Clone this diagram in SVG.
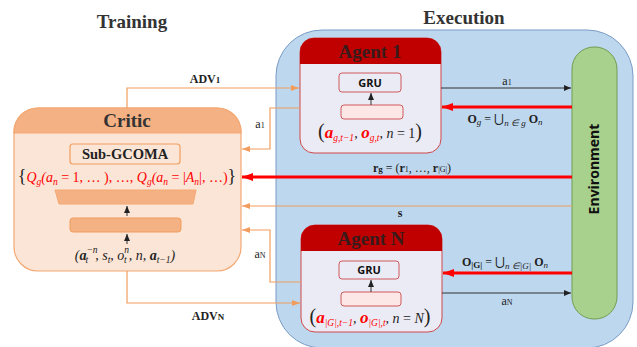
<svg xmlns="http://www.w3.org/2000/svg" width="637" height="347" viewBox="0 0 637 347">
<defs>
<style>
.ttl{font-family:"Liberation Serif",serif;font-weight:bold;font-size:19px;fill:#333}
.lbl{font-family:"Liberation Serif",serif;font-size:12px;fill:#222}
.math{font-family:"Liberation Serif",serif;font-style:italic;font-size:14px}
.sans{font-family:"Open Sans","DejaVu Sans",sans-serif;font-weight:bold}
.or{fill:none;stroke:#f19d5e;stroke-width:1.2}
.bk{fill:none;stroke:#333;stroke-width:1}
.rd{fill:none;stroke:#ff0000;stroke-width:3}
</style>
<marker id="mo" markerUnits="userSpaceOnUse" markerWidth="8" markerHeight="6" refX="8" refY="3" orient="auto"><path d="M0,0 L8,3 L0,6 z" fill="#f19d5e"/></marker>
<marker id="mb" markerUnits="userSpaceOnUse" markerWidth="7" markerHeight="6" refX="7" refY="3" orient="auto"><path d="M0,0 L7,3 L0,6 z" fill="#222"/></marker>
<marker id="mr" markerUnits="userSpaceOnUse" markerWidth="11" markerHeight="8" refX="11" refY="4" orient="auto"><path d="M0,0 L11,4 L0,8 z" fill="#ff0000"/></marker>
</defs>
<rect width="637" height="347" fill="#ffffff"/>
<text class="ttl" x="132" y="28" text-anchor="middle">Training</text>
<text class="ttl" x="464" y="24" text-anchor="middle" font-size="20">Execution</text>

<g id="execution">
<rect x="276" y="30" width="357" height="318" rx="46" fill="#bdd7ee" stroke="#7a9cc6" stroke-width="1"/>
</g>

<g id="environment">
<rect x="572" y="47" width="45" height="272" rx="22" fill="#a9d18e" stroke="#6e9e50" stroke-width="1"/>
<text class="sans" font-size="14" fill="#111" transform="translate(599,169) rotate(-90)" text-anchor="middle">Environment</text>
</g>

<g id="critic">
<rect x="14" y="108" width="227" height="163" rx="24" fill="#fbe5d6" stroke="#f4a873" stroke-width="1.2"/>
<path d="M14,133 V132 A24,24 0 0 1 38,108 H217 A24,24 0 0 1 241,132 V133 Z" fill="#f4b183" stroke="#f4a873" stroke-width="1.2"/>
<text class="ttl" x="127" y="127" text-anchor="middle" font-size="18">Critic</text>
<rect x="70" y="144" width="110" height="20" rx="3" fill="#fbe5d6" stroke="#f19d5e" stroke-width="1.2"/>
<text x="125" y="159" text-anchor="middle" font-family="Liberation Serif,serif" font-weight="bold" font-size="14.5" fill="#222">Sub-GCOMA</text>
<text class="math" x="127" y="182" text-anchor="middle" fill="#ff0000" font-size="14.8"><tspan fill="#222" font-style="normal" font-size="18">{</tspan>Q<tspan font-size="9.5" dy="3">g</tspan><tspan dy="-3">(a</tspan><tspan font-size="9.5" dy="3">n</tspan><tspan dy="-3" font-style="normal"> = 1, … ), …, </tspan>Q<tspan font-size="9.5" dy="3">g</tspan><tspan dy="-3">(a</tspan><tspan font-size="9.5" dy="3">n</tspan><tspan dy="-3" font-style="normal"> = |</tspan>A<tspan font-size="9.5" dy="3">n</tspan><tspan dy="-3" font-style="normal">|, …)</tspan><tspan fill="#222" font-style="normal" font-size="18">}</tspan></text>
<path d="M55,190 L196,190 L193,204 L59,204 Z" fill="#f4b183" stroke="#f4a873" stroke-width="1"/>
<rect x="70" y="218" width="111" height="14" rx="3" fill="#f4b183" stroke="#f19d5e" stroke-width="1"/>
<path class="bk" d="M127,244 V234" marker-end="url(#mb)"/>
<path class="bk" d="M127,216 V206" marker-end="url(#mb)"/>
<text class="math" x="125" y="260" text-anchor="middle" fill="#222" font-size="15.5">(<tspan font-weight="bold">a</tspan><tspan font-size="9.5" dy="-7">−n</tspan><tspan font-size="9.5" dx="-12" dy="10">t</tspan><tspan dy="-3" dx="7">, s</tspan><tspan font-size="9.5" dy="3">t</tspan><tspan dy="-3">, o</tspan><tspan font-size="9.5" dy="-7">n</tspan><tspan font-size="9.5" dx="-5" dy="10">t</tspan><tspan dy="-3" dx="2">, n, </tspan><tspan font-weight="bold">a</tspan><tspan font-size="9.5" dy="3">t−1</tspan><tspan dy="-3">)</tspan></text>
</g>

<g id="agent1">
<rect x="300" y="38" width="141" height="115" rx="14" fill="#ebebf5" stroke="#d04848" stroke-width="1"/>
<path d="M300,64 V52 A14,14 0 0 1 314,38 H427 A14,14 0 0 1 441,52 V64 Z" fill="#c00000"/>
<text x="370" y="58" text-anchor="middle" font-family="Liberation Serif,serif" font-weight="bold" font-size="19" fill="#3a1a1a">Agent 1</text>
<rect x="339" y="73" width="62" height="19" rx="3" fill="#ebebf5" stroke="#d05a5a" stroke-width="1"/>
<text class="sans" x="370" y="87" text-anchor="middle" font-size="11" fill="#111">GRU</text>
<rect x="341" y="105" width="62" height="14" rx="3" fill="#fde6e6" stroke="#d05a5a" stroke-width="1"/>
<path class="bk" d="M371,105 V93" marker-end="url(#mb)"/>
<text class="math" x="370" y="138" text-anchor="middle" fill="#222" font-size="14.5"><tspan font-style="normal" font-size="20">(</tspan><tspan font-weight="bold" fill="#ff0000" font-size="17">a</tspan><tspan font-size="9.5" dy="3" fill="#ff0000">g,t−1</tspan><tspan dy="-3">, </tspan><tspan font-weight="bold" fill="#ff0000" font-size="17">o</tspan><tspan font-size="9.5" dy="3" fill="#ff0000">g,t</tspan><tspan dy="-3">, n </tspan><tspan font-style="normal">= 1</tspan><tspan font-style="normal" font-size="20">)</tspan></text>
</g>

<g id="agentN">
<rect x="301" y="225" width="141" height="107" rx="14" fill="#ebebf5" stroke="#d04848" stroke-width="1"/>
<path d="M301,251 V239 A14,14 0 0 1 315,225 H428 A14,14 0 0 1 442,239 V251 Z" fill="#c00000"/>
<text x="371" y="245" text-anchor="middle" font-family="Liberation Serif,serif" font-weight="bold" font-size="19" fill="#3a1a1a">Agent N</text>
<rect x="339" y="261" width="60" height="18" rx="3" fill="#ebebf5" stroke="#d05a5a" stroke-width="1"/>
<text class="sans" x="369" y="274" text-anchor="middle" font-size="11" fill="#111">GRU</text>
<rect x="341" y="292" width="60" height="14" rx="3" fill="#fde6e6" stroke="#d05a5a" stroke-width="1"/>
<path class="bk" d="M371,292 V280" marker-end="url(#mb)"/>
<text class="math" x="370" y="323" text-anchor="middle" fill="#222" font-size="14.5"><tspan font-style="normal" font-size="20">(</tspan><tspan font-weight="bold" fill="#ff0000" font-size="17">a</tspan><tspan font-size="9.5" dy="3" fill="#ff0000">|G|,t−1</tspan><tspan dy="-3">, </tspan><tspan font-weight="bold" fill="#ff0000" font-size="17">o</tspan><tspan font-size="9.5" dy="3" fill="#ff0000">|G|,t</tspan><tspan dy="-3">, n </tspan><tspan font-style="normal">= </tspan>N<tspan font-style="normal" font-size="20">)</tspan></text>
</g>

<g id="connectors">
<path class="or" d="M127,108 V88 H299" marker-end="url(#mo)"/>
<path class="or" d="M127,271 V303 H300" marker-end="url(#mo)"/>
<path class="or" d="M300,108 H270 V149 H242" marker-end="url(#mo)"/>
<path class="or" d="M301,282 H270 V230 H242" marker-end="url(#mo)"/>
<path class="rd" d="M572,177 H242" marker-end="url(#mr)"/>
<path class="or" d="M572,206 H242" marker-end="url(#mo)"/>
<path class="bk" d="M441,88 H571" marker-end="url(#mb)"/>
<path class="rd" d="M572,107 H442" marker-end="url(#mr)"/>
<path class="rd" d="M572,273 H443" marker-end="url(#mr)"/>
<path class="bk" d="M442,293 H571" marker-end="url(#mb)"/>
<text class="lbl" x="205" y="83" text-anchor="middle" font-weight="bold">ADV<tspan font-size="9">1</tspan></text>
<text class="lbl" x="208" y="320" text-anchor="middle" font-weight="bold">ADV<tspan font-size="9">N</tspan></text>
<text class="lbl" x="260" y="128" text-anchor="middle">a<tspan font-size="8">1</tspan></text>
<text class="lbl" x="260" y="258" text-anchor="middle">a<tspan font-size="8">N</tspan></text>
<text class="lbl" x="507" y="85" text-anchor="middle">a<tspan font-size="8">1</tspan></text>
<text class="lbl" x="507" y="305" text-anchor="middle">a<tspan font-size="8">N</tspan></text>
<text class="lbl" x="400" y="217" text-anchor="middle" font-weight="bold">s</text>
<text class="lbl" x="412" y="172" text-anchor="middle" font-size="14"><tspan font-weight="bold">r</tspan><tspan font-size="9" font-weight="bold">g</tspan> = (<tspan font-weight="bold">r</tspan><tspan font-size="8">1</tspan>, …, <tspan font-weight="bold">r</tspan><tspan font-size="8">|G|</tspan>)</text>
<text class="lbl" x="505" y="123" text-anchor="middle" font-size="14"><tspan font-weight="bold">O</tspan><tspan font-size="9" font-style="italic" dy="2">g</tspan><tspan dy="-2"> = ⋃</tspan><tspan font-size="9" font-style="italic" dy="3">n ∈ g</tspan><tspan dy="-3" font-weight="bold"> O</tspan><tspan font-size="9" font-style="italic" dy="2">n</tspan></text>
<text class="lbl" x="505" y="266" text-anchor="middle" font-size="14"><tspan font-weight="bold">O</tspan><tspan font-size="9" font-weight="bold" dy="2">|G|</tspan><tspan dy="-2"> = ⋃</tspan><tspan font-size="9" font-style="italic" dy="3">n ∈|G|</tspan><tspan dy="-3" font-weight="bold"> O</tspan><tspan font-size="9" font-style="italic" dy="2">n</tspan></text>
</g>
</svg>
